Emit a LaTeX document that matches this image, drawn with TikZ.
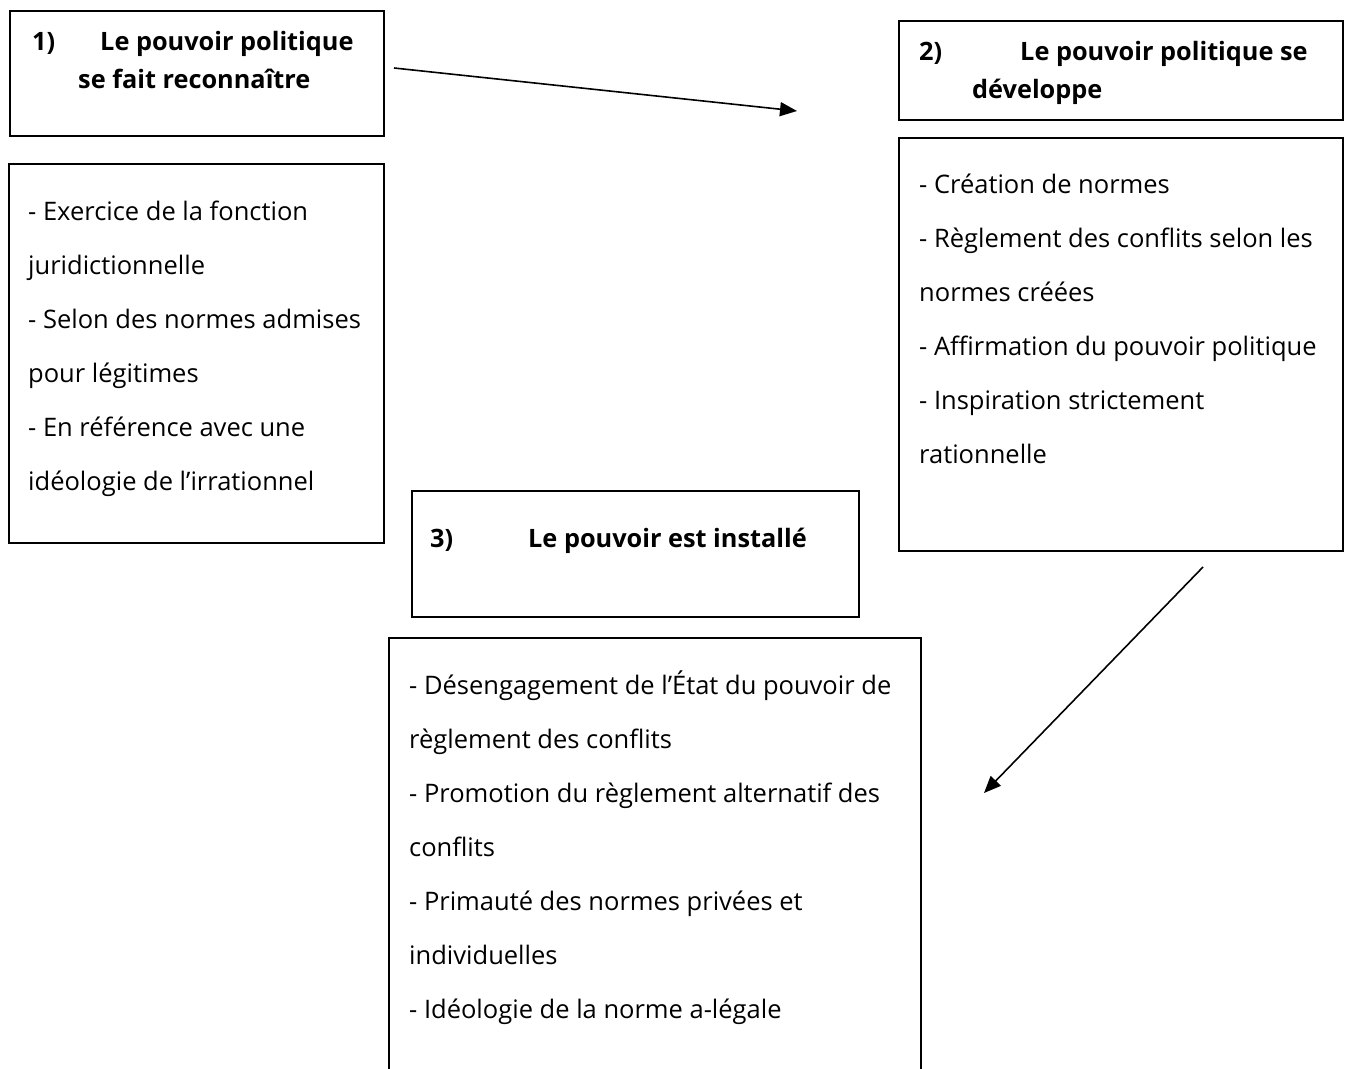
\documentclass[tikz,border=0pt]{standalone}
\usepackage{fontspec}
\setmainfont{Open Sans}
\usetikzlibrary{arrows.meta}
\newcommand\bodyfnt{\fontsize{25.5}{54}\selectfont}
\newcommand\titlefnt{\fontsize{25.3}{38}\selectfont\bfseries}
\tikzset{
  box/.style={draw, line width=1.4pt},
  bodytext/.style={anchor=north west, inner sep=0pt, align=left, font=\bodyfnt},
  titletext/.style={anchor=north west, inner sep=0pt, align=left, font=\titlefnt},
  conn/.style={line width=1.6pt, -{Triangle[length=17pt,width=14pt]}},
}
\begin{document}
\begin{tikzpicture}[x=1pt,y=-1pt]
\useasboundingbox (0,0) rectangle (1349,1068);
% boxes
\draw[box] (10,11) rectangle (384,136);
\draw[box] (9,164) rectangle (384,543);
\draw[box] (899,21) rectangle (1343,120);
\draw[box] (899,138) rectangle (1343,551);
\draw[box] (412,491) rectangle (859,617);
\draw[box] (389,638) rectangle (921,1080);
% titles
\node[titletext] (t1) at (32,23.4) {\strut\makebox[68pt][l]{1)}Le pouvoir politique\\\hspace*{46pt}se fait reconnaître};
\node[titletext] (t2) at (919,33.4) {\strut\makebox[101pt][l]{2)}Le pouvoir politique se\\\hspace*{53pt}développe};
\node[titletext] (t3) at (430,520.4) {\strut\makebox[98pt][l]{3)}Le pouvoir est installé};
% bodies
\node[bodytext] (b1) at (28,182.2) {\strut- Exercice de la fonction\\juridictionnelle\\- Selon des normes admises\\pour légitimes\\- En référence avec une\\idéologie de l’irrationnel};
\node[bodytext] (b2) at (919,155.2) {\strut- Création de normes\\- Règlement des conflits selon les\\normes créées\\- Affirmation du pouvoir politique\\- Inspiration strictement\\rationnelle};
\node[bodytext] (b3) at (409,656.2) {\strut- Désengagement de l’État du pouvoir de\\règlement des conflits\\- Promotion du règlement alternatif des\\conflits\\- Primauté des normes privées et\\individuelles\\- Idéologie de la norme a-légale};
% connectors
\coordinate (a1s) at (394,68);
\coordinate (a1e) at (797,111);
\coordinate (a2s) at (1203,567);
\coordinate (a2e) at (984,793);
\draw[conn] (a1s) -- (a1e);
\draw[conn] (a2s) -- (a2e);
\end{tikzpicture}
\end{document}
